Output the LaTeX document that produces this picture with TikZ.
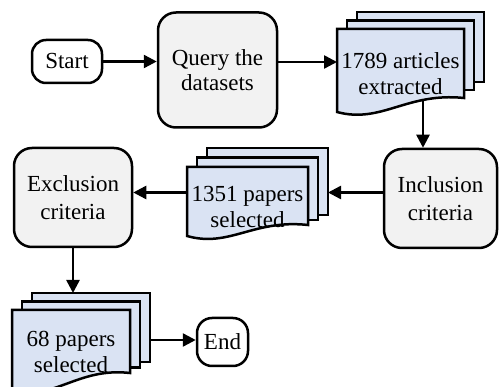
\documentclass[tikz,border=0pt]{standalone}
\usepackage{fontspec}
\setmainfont{Liberation Serif}
\usetikzlibrary{arrows.meta}
\definecolor{boxgray}{RGB}{242,242,242}
\definecolor{docblue}{RGB}{218,227,243}
\pgfdeclarelayer{bg}
\pgfsetlayers{bg,main}
% #1 x0, #2 y0 (front top), #3 width, #4 right end y, #5 left end y, #6 page offset y, #7 back bottom step
\newcommand\docstack[7]{%
  \draw[page] (#1+20,#2-2*#6) rectangle (#1+#3+20,#4-2*#7);
  \draw[page] (#1+10,#2-#6) rectangle (#1+#3+10,#4-#7);
  \draw[page] (#1,#2) -- (#1+#3,#2) -- (#1+#3,#4)
    .. controls (#1+0.55*#3,#4-6) and (#1+0.35*#3,#5+12) .. (#1,#5) -- cycle;
}
\begin{document}
\begin{tikzpicture}[x=1pt,y=-1pt,
  lw/.style={line width=2.5pt},
  procbox/.style={draw, lw, fill=boxgray, rounded corners=18pt, inner sep=0pt,
    font=\fontsize{23}{28}\selectfont, align=center},
  termbox/.style={draw, lw, fill=white, rounded corners=14pt, inner sep=0pt,
    font=\fontsize{23}{28}\selectfont, align=center},
  page/.style={draw, lw, fill=docblue, line join=miter},
  lbl/.style={font=\fontsize{23}{26}\selectfont, align=center, inner sep=0pt},
  flow/.style={lw, -{Triangle[length=13pt,width=13pt]}}]
\useasboundingbox (0,0) rectangle (499,387);

% terminals and process boxes
\node[termbox, minimum width=70pt, minimum height=43pt] (start) at (67,61.5) {Start};
\node[procbox, minimum width=119pt, minimum height=115pt, font=\fontsize{23}{25}\selectfont] (query) at (217.5,70) {Query the\\datasets};
\node[procbox, minimum width=118pt, minimum height=99pt] (excl) at (73,197.5) {Exclusion\\criteria};
\node[procbox, minimum width=113pt, minimum height=99pt] (incl) at (440.5,198.5) {Inclusion\\criteria};
\node[termbox, minimum width=51pt, minimum height=48pt, rounded corners=15pt] (fin) at (222.5,342) {End};

% document stacks
\docstack{337}{29}{127}{98}{112}{8.5}{8}
\node[lbl] (art) at (400.5,74) {1789 articles\\extracted};
\docstack{187}{167}{121}{225}{236}{9.5}{5}
\node[lbl] (sel1) at (247.5,207) {1351 papers\\selected};
\docstack{12}{310}{118}{373}{390}{8.5}{5.5}
\node[lbl] (sel2) at (71,352) {68 papers\\selected};

% connector anchors on the document stacks
\coordinate (artW) at (337,62);
\coordinate (artS) at (423,98);
\coordinate (selR) at (328,192.5);
\coordinate (selL) at (187,192.5);
\coordinate (finT) at (73,293);
\coordinate (finR) at (150,340);

\begin{pgfonlayer}{bg}
\draw[flow] (start.east) -- (start.east -| query.west);
\draw[flow] (artW -| query.east) -- (artW);
\draw[flow] (artS) -- (artS |- incl.north);
\draw[flow] (selR -| incl.west) -- (selR);
\draw[flow] (selL) -- (selL -| excl.east);
\draw[flow] (excl.south) -- (finT);
\draw[flow] (finR) -- (finR -| fin.west);
\end{pgfonlayer}
\end{tikzpicture}
\end{document}
